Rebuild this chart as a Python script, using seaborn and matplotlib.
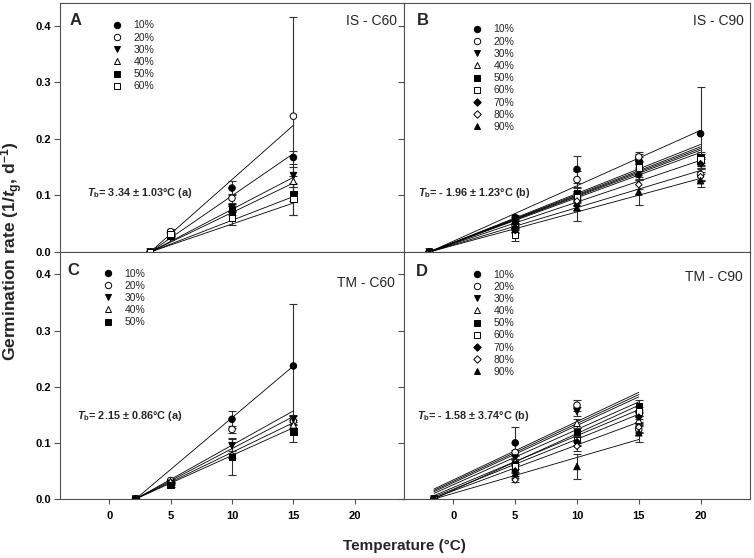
import numpy as np
import pandas as pd
import matplotlib
matplotlib.use("Agg")
import matplotlib.pyplot as plt
from matplotlib.lines import Line2D
import seaborn as sns

# levels and marker styles
levels = ['10%', '20%', '30%', '40%', '50%', '60%', '70%', '80%', '90%']
diamond = (4, 0, 0)
marker_map = {'10%': 'o', '20%': 'o', '30%': 'v', '40%': '^', '50%': 's',
              '60%': 's', '70%': diamond, '80%': diamond, '90%': '^'}
face_map = {'10%': 'black', '20%': 'white', '30%': 'black', '40%': 'white', '50%': 'black',
            '60%': 'white', '70%': 'black', '80%': 'white', '90%': 'black'}

# ---- panel A : IS - C60
a_tb = 3.34
a_temp = [5, 10, 15]
a_rate = {'10%': [0.034, 0.113, 0.167], '20%': [0.036, 0.095, 0.240], '30%': [0.026, 0.078, 0.135],
          '40%': [0.031, 0.076, 0.125], '50%': [0.029, 0.073, 0.102], '60%': [0.032, 0.060, 0.094]}
a_err = {'10%': [0.004, 0.012, 0.011], '20%': [0.004, 0.008, 0.175], '30%': [0.003, 0.006, 0.015],
         '40%': [0.003, 0.006, 0.010], '50%': [0.003, 0.008, 0.012], '60%': [0.003, 0.012, 0.028]}
a_fit_start = {'10%': 0, '20%': 0, '30%': 0, '40%': 0, '50%': 0, '60%': 0}
a_fit_end = {'10%': 0.174, '20%': 0.224, '30%': 0.132, '40%': 0.122, '50%': 0.098, '60%': 0.0865}

# ---- panel B : IS - C90
b_tb = -1.96
b_temp = [5, 10, 15, 20]
b_rate = {'10%': [0.061, 0.146, 0.162, 0.209], '20%': [0.048, 0.128, 0.168, 0.137],
          '30%': [0.052, 0.098, 0.150, 0.158], '40%': [0.046, 0.100, 0.140, 0.160],
          '50%': [0.055, 0.104, 0.157, 0.167], '60%': [0.030, 0.096, 0.149, 0.163],
          '70%': [0.042, 0.082, 0.136, 0.156], '80%': [0.038, 0.090, 0.119, 0.133],
          '90%': [0.040, 0.078, 0.106, 0.126]}
b_err = {'10%': [0.005, 0.024, 0.012, 0.083], '20%': [0.004, 0.015, 0.008, 0.010],
         '30%': [0.004, 0.010, 0.010, 0.010], '40%': [0.004, 0.008, 0.008, 0.008],
         '50%': [0.004, 0.010, 0.010, 0.009], '60%': [0.010, 0.010, 0.010, 0.010],
         '70%': [0.004, 0.008, 0.008, 0.008], '80%': [0.004, 0.008, 0.008, 0.008],
         '90%': [0.005, 0.023, 0.023, 0.012]}
b_fit_start = {k: 0 for k in levels}
b_fit_end = {'10%': 0.215, '20%': 0.183, '30%': 0.176, '40%': 0.180, '50%': 0.190,
             '60%': 0.186, '70%': 0.162, '80%': 0.144, '90%': 0.130}

# ---- panel C : TM - C60
c_tb = 2.15
c_temp = [5, 10, 15]
c_rate = {'10%': [0.030, 0.142, 0.237], '20%': [0.033, 0.124, 0.139], '30%': [0.028, 0.095, 0.142],
          '40%': [0.031, 0.079, 0.132], '50%': [0.025, 0.075, 0.120]}
c_err = {'10%': [0.003, 0.015, 0.111], '20%': [0.003, 0.006, 0.008], '30%': [0.003, 0.013, 0.008],
         '40%': [0.003, 0.006, 0.008], '50%': [0.003, 0.032, 0.018]}
c_fit_start = {k: 0 for k in levels[:5]}
c_fit_end = {'10%': 0.237, '20%': 0.157, '30%': 0.147, '40%': 0.136, '50%': 0.127}

# ---- panel D : TM - C90
d_tb = -1.58
d_temp = [5, 10, 15]
d_rate = {'10%': [0.100, np.nan, np.nan], '20%': [0.083, 0.167, 0.124], '30%': [0.073, 0.156, 0.150],
          '40%': [0.067, 0.135, 0.140], '50%': [0.062, 0.119, 0.166], '60%': [0.058, 0.105, 0.156],
          '70%': [0.050, 0.102, 0.146], '80%': [0.034, 0.094, 0.128], '90%': [0.045, 0.058, 0.118]}
d_err = {'10%': [0.029, np.nan, np.nan], '20%': [0.005, 0.010, 0.006], '30%': [0.004, 0.008, 0.008],
         '40%': [0.004, 0.008, 0.008], '50%': [0.004, 0.008, 0.011], '60%': [0.004, 0.008, 0.008],
         '70%': [0.004, 0.008, 0.008], '80%': [0.004, 0.008, 0.008], '90%': [0.004, 0.023, 0.016]}
d_fit_start = {'10%': 0.0177, '20%': 0.0153, '30%': 0.013, '40%': 0.010, '50%': 0.0,
               '60%': 0.006, '70%': 0.0035, '80%': 0.0018, '90%': 0.0}
d_fit_end = {'10%': 0.190, '20%': 0.186, '30%': 0.182, '40%': 0.173, '50%': 0.167,
             '60%': 0.159, '70%': 0.151, '80%': 0.137, '90%': 0.106}

x_ticks = [0, 5, 10, 15, 20]
y_ticks = [0.0, 0.1, 0.2, 0.3, 0.4]

sns.set_style("ticks")
plt.rcParams['font.family'] = ['Liberation Sans', 'DejaVu Sans']
plt.rcParams['mathtext.fontset'] = 'custom'
plt.rcParams['mathtext.rm'] = 'Liberation Sans:bold'
plt.rcParams['mathtext.it'] = 'Liberation Sans:bold:italic'
plt.rcParams['mathtext.bf'] = 'Liberation Sans:bold'

fig = plt.figure(figsize=(7.54, 5.58), dpi=100)

panels = [
    dict(letter='A', name='IS - C60', tb=a_tb, temp=a_temp, rate=a_rate, err=a_err,
         fs=a_fit_start, fe=a_fit_end, tbtxt='$T_\\mathrm{b}$= 3.34 ± 1.03°C (a)',
         rect=[0.0796, 0.5484, 0.4562, 0.4462], let_xy=(0.029, 0.96), name_xy=(0.98, 0.956),
         tb_xy=(0.078, 0.237), leg_xy=(0.151, 0.93), xlab=False, ylab=True),
    dict(letter='B', name='IS - C90', tb=b_tb, temp=b_temp, rate=b_rate, err=b_err,
         fs=b_fit_start, fe=b_fit_end, tbtxt='$T_\\mathrm{b}$= - 1.96 ± 1.23°C (b)',
         rect=[0.5358, 0.5484, 0.4589, 0.4462], let_xy=(0.038, 0.96), name_xy=(0.983, 0.956),
         tb_xy=(0.040, 0.237), leg_xy=(0.197, 0.914), xlab=False, ylab=False),
    dict(letter='C', name='TM - C60', tb=c_tb, temp=c_temp, rate=c_rate, err=c_err,
         fs=c_fit_start, fe=c_fit_end, tbtxt='$T_\\mathrm{b}$= 2.15 ± 0.86°C (a)',
         rect=[0.0796, 0.1057, 0.4562, 0.4427], let_xy=(0.021, 0.955), name_xy=(0.974, 0.903),
         tb_xy=(0.049, 0.337), leg_xy=(0.125, 0.933), xlab=True, ylab=True),
    dict(letter='D', name='TM - C90', tb=d_tb, temp=d_temp, rate=d_rate, err=d_err,
         fs=d_fit_start, fe=d_fit_end, tbtxt='$T_\\mathrm{b}$= - 1.58 ± 3.74°C (b)',
         rect=[0.5358, 0.1057, 0.4589, 0.4427], let_xy=(0.035, 0.951), name_xy=(0.98, 0.927),
         tb_xy=(0.038, 0.337), leg_xy=(0.197, 0.929), xlab=True, ylab=False),
]

spine_col = '#505050'

for p in panels:
    ax = fig.add_axes(p['rect'])
    keys = list(p['rate'].keys())

    # fitted lines from base temperature to last temperature
    for k in keys:
        ax.plot([p['tb'], p['temp'][-1]], [p['fs'][k], p['fe'][k]],
                color='black', lw=0.6, zorder=2)

    rows = []
    for k in keys:
        rows.append(dict(temp=p['tb'], rate=0.0, err=0.0, level=k))
        for t, r, e in zip(p['temp'], p['rate'][k], p['err'][k]):
            rows.append(dict(temp=t, rate=r, err=e, level=k))
    df = pd.DataFrame(rows).dropna()

    ax.errorbar(df['temp'], df['rate'], yerr=df['err'], fmt='none', ecolor='#303030',
                elinewidth=0.8, capsize=3.2, capthick=0.8, zorder=2)
    sns.scatterplot(data=df, x='temp', y='rate', hue='level', style='level',
                    palette={k: face_map[k] for k in keys},
                    markers={k: marker_map[k] for k in keys},
                    edgecolor='black', linewidth=0.7, s=22, legend=False, ax=ax, zorder=3)

    handles = [Line2D([], [], marker=marker_map[k], linestyle='none',
                      markersize=5.4 if marker_map[k] == diamond else 4.6,
                      markerfacecolor=face_map[k], markeredgecolor='black', markeredgewidth=0.7)
               for k in keys]
    ax.legend(handles, keys, loc='upper left', bbox_to_anchor=p['leg_xy'], frameon=False,
              fontsize=7.5, handlelength=1.0, handletextpad=1.05, labelspacing=0.21,
              borderpad=0, borderaxespad=0)

    ax.set_xlim(-4, 24)
    ax.set_ylim(0, 0.44)
    ax.set_xticks(x_ticks)
    ax.set_yticks(y_ticks)
    ax.set_xlabel('')
    ax.set_ylabel('')
    if p['xlab']:
        ax.set_xticklabels([str(v) for v in x_ticks], fontweight='bold', fontsize=8)
    else:
        ax.set_xticklabels([])
    if p['ylab']:
        ax.set_yticklabels(['%.1f' % v for v in y_ticks], fontweight='bold', fontsize=8)
    else:
        ax.set_yticklabels([])
    ax.tick_params(axis='x', direction='out', length=3.5, width=0.8, pad=5, colors=spine_col,
                   labelcolor='black')
    ax.tick_params(axis='y', direction='out', length=4.5, width=0.8, pad=2, colors=spine_col,
                   labelcolor='black')
    for s in ax.spines.values():
        s.set_visible(True)
        s.set_color(spine_col)
        s.set_linewidth(0.8)

    ax.text(p['let_xy'][0], p['let_xy'][1], p['letter'], transform=ax.transAxes,
            fontsize=12, fontweight='bold', ha='left', va='top')
    ax.text(p['name_xy'][0], p['name_xy'][1], p['name'], transform=ax.transAxes,
            fontsize=10, ha='right', va='top')
    ax.text(p['tb_xy'][0], p['tb_xy'][1], p['tbtxt'], transform=ax.transAxes,
            fontsize=7.8, fontweight='bold', ha='left', va='center')

fig.text(0.016, 0.55, 'Germination rate (1/$t_\\mathrm{g}$, d$^{-1}$)', rotation=90,
         fontsize=12.5, fontweight='bold', ha='center', va='center')
fig.text(0.537, 0.022, 'Temperature (°C)', fontsize=11, fontweight='bold',
         ha='center', va='center')

fig.savefig('out.png', dpi=100)
